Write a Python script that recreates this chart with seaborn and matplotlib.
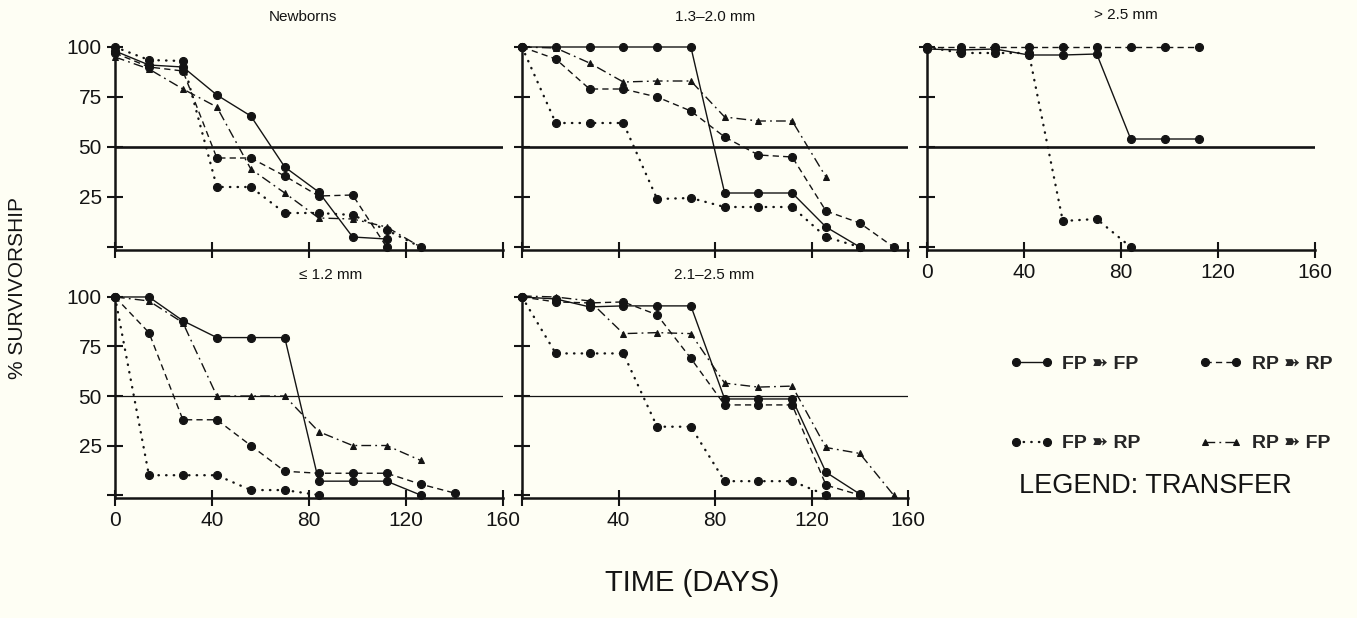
import matplotlib
matplotlib.use("Agg")
import matplotlib.pyplot as plt
import seaborn as sns

# ---- data: percent survivorship sampled every 14 days ----
DAYS = [0, 14, 28, 42, 56, 70, 84, 98, 112, 126, 140, 154]

TRANSFERS = ["FP-FP", "FP-RP", "RP-RP", "RP-FP"]
LEGEND_LABELS = ["FP \u27bd FP", "FP \u27bd RP", "RP \u27bd RP", "RP \u27bd FP"]

newborns_fp_fp = [98, 91, 90, 76, 65.5, 40, 27.5, 5, 4]
newborns_fp_rp = [100, 93.5, 93, 30, 30, 17, 17, 16, 8.5, 0]
newborns_rp_rp = [97, 90, 88, 44.5, 44.5, 35.5, 25.5, 26, 0]
newborns_rp_fp = [95, 89, 79, 70, 39, 27, 14.5, 14, 10, 0]

mm13_fp_fp = [100, 100, 100, 100, 100, 100, 27, 27, 27, 10, 0]
mm13_fp_rp = [100, 62, 62, 62, 24, 24.5, 20, 20, 20, 5, 0]
mm13_rp_rp = [100, 94, 79, 79, 75, 68, 55, 46, 45, 18, 12, 0]
mm13_rp_fp = [100, 99.5, 92, 82.5, 83, 83, 65, 63, 63, 35]

mm25_fp_fp = [99, 98.5, 99, 96, 96, 96.5, 54, 54, 54]
mm25_fp_rp = [100, 97, 97, 97, 13, 14, 0]
mm25_rp_rp = [100, 100, 100, 100, 100, 100, 100, 100, 100]

mm12_fp_fp = [100, 100, 88, 79.5, 79.5, 79.5, 7, 7, 7, 0]
mm12_fp_rp = [100, 10, 10, 10, 2.5, 2.5, 0]
mm12_rp_rp = [100, 82, 38, 38, 25, 12, 11, 11, 11, 5.5, 1]
mm12_rp_fp = [100, 98, 87, 50, 50, 50, 32, 25, 25, 17.5]

mm21_fp_fp = [100, 99, 95, 95.5, 95.5, 95.5, 48.5, 48.5, 48.5, 11.5, 0.5]
mm21_fp_rp = [100, 71.5, 71.5, 71.5, 34.5, 34.5, 7, 7, 7, 0]
mm21_rp_rp = [100, 97.5, 97, 97.5, 91, 69, 45.5, 45.5, 45.5, 5, 0]
mm21_rp_fp = [100.5, 100, 98, 81.5, 82, 81.5, 56.5, 54.5, 55, 24, 21, 0]

PANEL_TITLES = ["Newborns", "1.3\u20132.0 mm", "> 2.5 mm", "\u2264 1.2 mm", "2.1\u20132.5 mm"]
Y_TICKS = [0, 25, 50, 75, 100]
Y_TICK_LABELS = ["", "25", "50", "75", "100"]
X_TICKS = [0, 40, 80, 120, 160]

panels = [
    {"FP-FP": newborns_fp_fp, "FP-RP": newborns_fp_rp, "RP-RP": newborns_rp_rp, "RP-FP": newborns_rp_fp},
    {"FP-FP": mm13_fp_fp, "FP-RP": mm13_fp_rp, "RP-RP": mm13_rp_rp, "RP-FP": mm13_rp_fp},
    {"FP-FP": mm25_fp_fp, "FP-RP": mm25_fp_rp, "RP-RP": mm25_rp_rp},
    {"FP-FP": mm12_fp_fp, "FP-RP": mm12_fp_rp, "RP-RP": mm12_rp_rp, "RP-FP": mm12_rp_fp},
    {"FP-FP": mm21_fp_fp, "FP-RP": mm21_fp_rp, "RP-RP": mm21_rp_rp, "RP-FP": mm21_rp_fp},
]

# ---- styling ----
BG = "#fefef4"
INK = "#141414"
FONT = ["Liberation Sans", "DejaVu Sans"]

sns.set_theme(style="ticks")
plt.rcParams["font.family"] = FONT
plt.rcParams["lines.scale_dashes"] = False

LINESTYLES = {
    "FP-FP": "-",
    "FP-RP": (0, (0.3, 5.2)),
    "RP-RP": (0, (4.5, 3.0)),
    "RP-FP": (0, (7.0, 3.0, 1.3, 3.0)),
}
LINEWIDTHS = {"FP-FP": 1.0, "FP-RP": 1.7, "RP-RP": 1.0, "RP-FP": 1.0}
CAPS = {"FP-FP": "butt", "FP-RP": "round", "RP-RP": "butt", "RP-FP": "butt"}
MARKERS = {"FP-FP": "o", "FP-RP": "o", "RP-RP": "o", "RP-FP": "^"}
MSIZE = {"FP-FP": 5.8, "FP-RP": 5.8, "RP-RP": 5.8, "RP-FP": 5.0}

W, H = 1357, 618
fig = plt.figure(figsize=(W / 100, H / 100), dpi=100, facecolor=BG)

COLS = [(115, 503), (522, 908), (927, 1315)]
TOP_ROW = (250, 45)
BOTTOM_ROW = (498, 295)
layout = [
    (COLS[0], TOP_ROW), (COLS[1], TOP_ROW), (COLS[2], TOP_ROW),
    (COLS[0], BOTTOM_ROW), (COLS[1], BOTTOM_ROW),
]
title_pos = [(303, 17), (715, 17), (1126, 15), (331, 275), (714, 275)]

legend_handles = {}
for i, (data, ((x0, x1), (yb, yt))) in enumerate(zip(panels, layout)):
    ax = fig.add_axes([x0 / W, 1 - yb / H, (x1 - x0) / W, (yb - yt) / H])
    ax.set_facecolor(BG)
    for key in TRANSFERS:
        if key not in data:
            continue
        vals = data[key]
        sns.lineplot(
            x=DAYS[: len(vals)], y=vals, ax=ax, color=INK, errorbar=None,
            linestyle=LINESTYLES[key], linewidth=LINEWIDTHS[key],
            dash_capstyle=CAPS[key],
            marker=MARKERS[key], markersize=MSIZE[key],
            markeredgecolor=INK, markerfacecolor=INK,
            clip_on=False, legend=False,
        )
        if key not in legend_handles:
            legend_handles[key] = ax.lines[-1]
    top = i < 3
    ax.axhline(50, color=INK, lw=1.9 if top else 0.9, zorder=1)

    ax.set_xlim(0, 160)
    ax.set_ylim(-1.5, 101)
    ax.set_xticks(X_TICKS)
    ax.set_yticks(Y_TICKS)
    ax.set_xlabel("")
    ax.set_ylabel("")
    sns.despine(ax=ax)
    for side in ("left", "bottom"):
        ax.spines[side].set_linewidth(1.8)
        ax.spines[side].set_color(INK)
    ax.tick_params(axis="both", direction="inout", length=11, width=1.5,
                   colors=INK, labelsize=15, pad=4)

    if i in (0, 3):
        ax.set_yticklabels(Y_TICK_LABELS)
    else:
        ax.set_yticklabels([])
    if i in (2, 3):
        ax.set_xticklabels([str(t) for t in X_TICKS])
    elif i == 4:
        ax.set_xticklabels([""] + [str(t) for t in X_TICKS[1:]])
    else:
        ax.set_xticklabels([])

    tx, ty = title_pos[i]
    fig.text(tx / W, 1 - ty / H, PANEL_TITLES[i], ha="center", va="center",
             fontsize=11, color=INK)

fig.text(18 / W, 1 - 288 / H, "% SURVIVORSHIP", rotation=90, ha="center",
         va="center", fontsize=15, color=INK)
fig.text(692 / W, 1 - 583 / H, "TIME (DAYS)", ha="center", va="center",
         fontsize=21, color=INK)

order = ["FP-FP", "FP-RP", "RP-RP", "RP-FP"]
fig.legend(
    [legend_handles[k] for k in order],
    [LEGEND_LABELS[TRANSFERS.index(k)] for k in order],
    ncol=2, loc="upper left", bbox_to_anchor=(1010 / W, 1 - 355 / H),
    frameon=False, numpoints=2, handlelength=2.2, handletextpad=0.5,
    columnspacing=3.0, labelspacing=3.2, borderpad=0, borderaxespad=0,
    prop={"family": FONT, "weight": "bold", "size": 14},
)
fig.text(1155 / W, 1 - 486 / H, "LEGEND: TRANSFER", ha="center", va="center",
         fontsize=19.5, color=INK)

fig.savefig("out.png", dpi=100, facecolor=BG)
